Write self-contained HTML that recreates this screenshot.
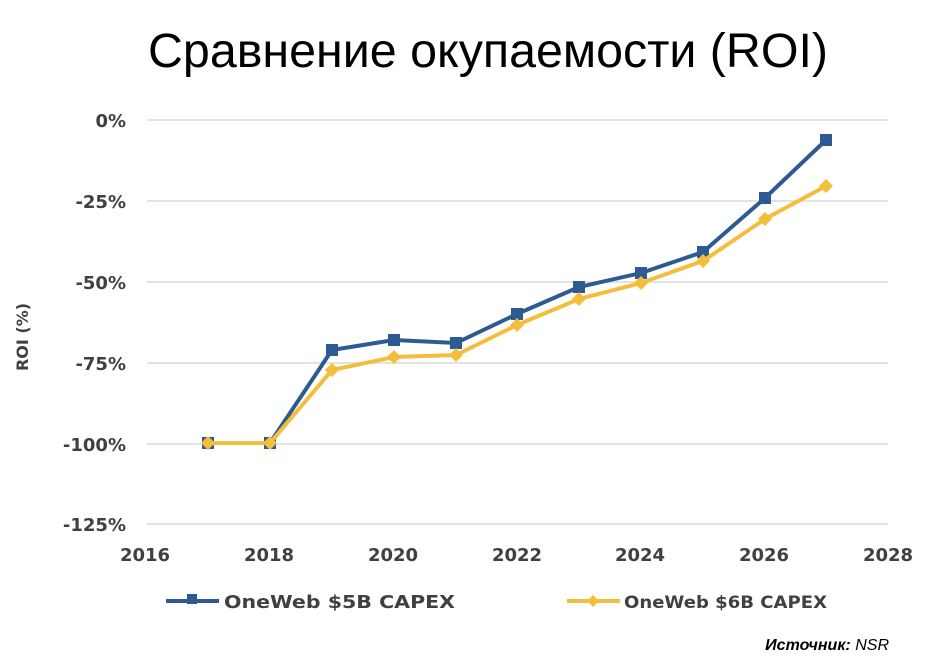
<!DOCTYPE html>
<html><head><meta charset="utf-8"><style>
body{margin:0;background:#fff;width:932px;height:663px;overflow:hidden}
</style></head><body>
<svg width="932" height="663" xmlns="http://www.w3.org/2000/svg" font-family="'DejaVu Sans', sans-serif">
<text x="148" y="67" textLength="680" lengthAdjust="spacingAndGlyphs" font-family="'Liberation Sans', sans-serif" font-size="48" fill="#000">Сравнение окупаемости (ROI)</text>
<g stroke="#e3e3e3" stroke-width="2">
<line x1="147" x2="888" y1="120" y2="120"/><line x1="147" x2="888" y1="201" y2="201"/>
<line x1="147" x2="888" y1="282" y2="282"/><line x1="147" x2="888" y1="363" y2="363"/>
<line x1="147" x2="888" y1="444" y2="444"/><line x1="147" x2="888" y1="524" y2="524"/>
</g>
<g font-size="18" font-weight="bold" fill="#404040" text-anchor="end">
<text x="126" y="127">0%</text><text x="126" y="208">-25%</text><text x="126" y="289">-50%</text>
<text x="126" y="370">-75%</text><text x="126" y="451">-100%</text><text x="126" y="531">-125%</text>
</g>
<g font-size="18" font-weight="bold" fill="#404040" text-anchor="middle">
<text x="145" y="561">2016</text><text x="269" y="561">2018</text><text x="393" y="561">2020</text>
<text x="517" y="561">2022</text><text x="640" y="561">2024</text><text x="764" y="561">2026</text><text x="888" y="561">2028</text>
</g>
<text transform="translate(28,337) rotate(-90)" text-anchor="middle" font-size="16" font-weight="bold" fill="#404040">ROI (%)</text>
<polyline fill="none" stroke="#2E5A93" stroke-width="4" points="208,443 270,443 332,350 394,340 456,343 517,314 579,287 641,273 703,252 765,198 826,140"/>
<g fill="#2E5A93">
<rect x="202" y="437" width="12" height="12"/><rect x="264" y="437" width="12" height="12"/><rect x="326" y="344" width="12" height="12"/><rect x="388" y="334" width="12" height="12"/><rect x="450" y="337" width="12" height="12"/><rect x="511" y="308" width="12" height="12"/><rect x="573" y="281" width="12" height="12"/><rect x="635" y="267" width="12" height="12"/><rect x="697" y="246" width="12" height="12"/><rect x="759" y="192" width="12" height="12"/><rect x="820" y="134" width="12" height="12"/>
</g>
<polyline fill="none" stroke="#F5BE3A" stroke-width="4" points="208,443 270,443 332,370 394,357 456,355 517,325 579,299 641,283 703,261 765,219 826,186"/>
<g fill="#F5BE3A">
<path d="M208,436l7,7l-7,7l-7,-7z"/><path d="M270,436l7,7l-7,7l-7,-7z"/><path d="M332,363l7,7l-7,7l-7,-7z"/><path d="M394,350l7,7l-7,7l-7,-7z"/><path d="M456,348l7,7l-7,7l-7,-7z"/><path d="M517,318l7,7l-7,7l-7,-7z"/><path d="M579,292l7,7l-7,7l-7,-7z"/><path d="M641,276l7,7l-7,7l-7,-7z"/><path d="M703,254l7,7l-7,7l-7,-7z"/><path d="M765,212l7,7l-7,7l-7,-7z"/><path d="M826,179l7,7l-7,7l-7,-7z"/>
</g>
<line x1="166" x2="219" y1="601" y2="601" stroke="#2E5A93" stroke-width="4"/>
<rect x="187" y="594" width="10" height="10" fill="#2E5A93"/>
<text x="224" y="608" textLength="231" lengthAdjust="spacingAndGlyphs" font-size="18" font-weight="bold" fill="#404040">OneWeb $5B CAPEX</text>
<line x1="567" x2="620" y1="601" y2="601" stroke="#F5BE3A" stroke-width="4"/>
<path d="M593,595l6,6l-6,6l-6,-6z" fill="#F5BE3A"/>
<text x="624" y="608" textLength="203" lengthAdjust="spacingAndGlyphs" font-size="17" font-weight="bold" fill="#404040">OneWeb $6B CAPEX</text>
<text x="889" y="650" text-anchor="end" font-family="'Liberation Sans', sans-serif" font-size="16" font-style="italic" fill="#000"><tspan font-weight="bold">Источник:</tspan> NSR</text>
</svg>
</body></html>
